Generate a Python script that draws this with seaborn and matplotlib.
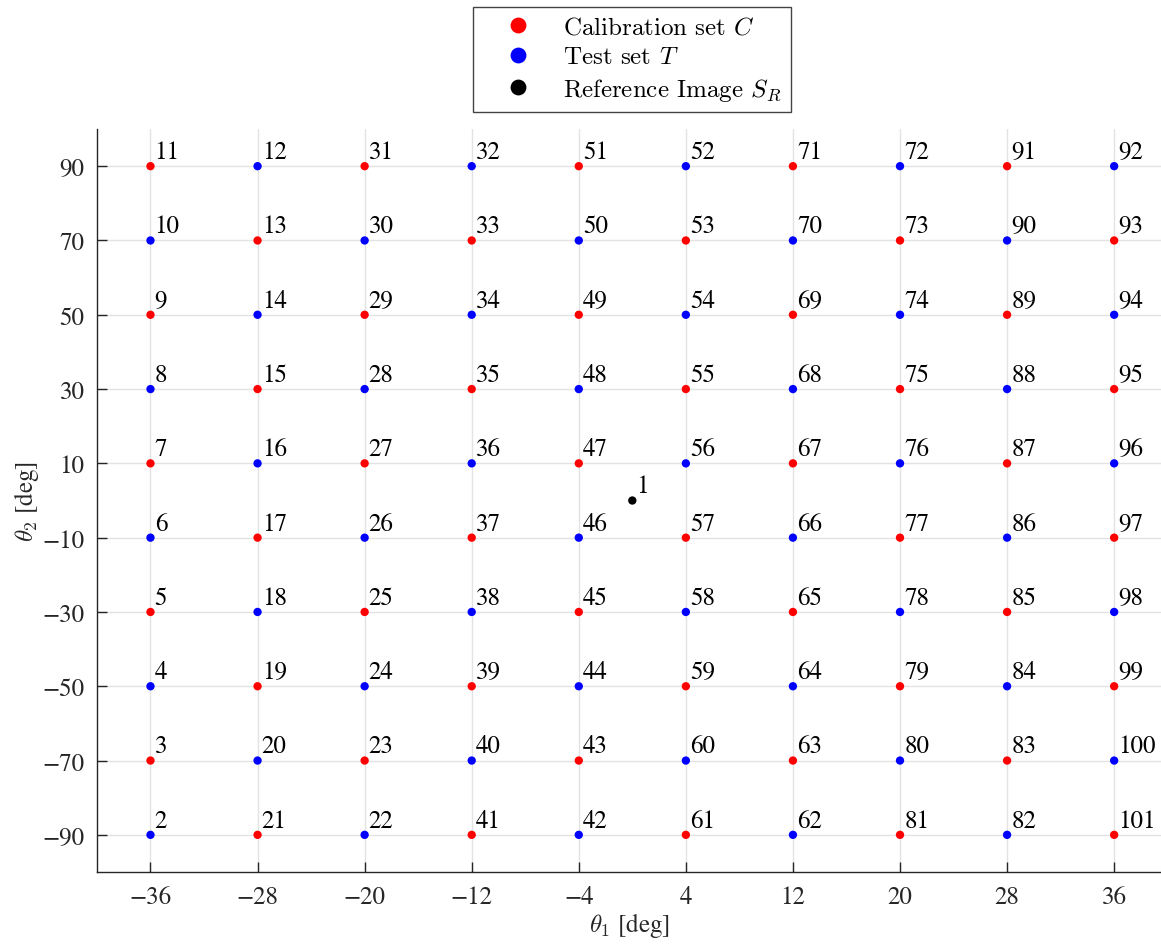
import pandas as pd
import matplotlib
matplotlib.use("Agg")
import matplotlib.pyplot as plt
import seaborn as sns

# grid positions
theta1 = [-36, -28, -20, -12, -4, 4, 12, 20, 28, 36]
theta2 = [90, 70, 50, 30, 10, -10, -30, -50, -70, -90]

# image ids per theta1 column, listed top (theta2=90) to bottom (theta2=-90)
image_ids = [
    [11, 10, 9, 8, 7, 6, 5, 4, 3, 2],
    [12, 13, 14, 15, 16, 17, 18, 19, 20, 21],
    [31, 30, 29, 28, 27, 26, 25, 24, 23, 22],
    [32, 33, 34, 35, 36, 37, 38, 39, 40, 41],
    [51, 50, 49, 48, 47, 46, 45, 44, 43, 42],
    [52, 53, 54, 55, 56, 57, 58, 59, 60, 61],
    [71, 70, 69, 68, 67, 66, 65, 64, 63, 62],
    [72, 73, 74, 75, 76, 77, 78, 79, 80, 81],
    [91, 90, 89, 88, 87, 86, 85, 84, 83, 82],
    [92, 93, 94, 95, 96, 97, 98, 99, 100, 101],
]

# C = calibration, T = test, same order as image_ids
set_codes = [
    "CTCTCTCTCT",
    "TCTCTCTCTC",
    "CTCTCTCTCT",
    "TCTCTCTCTC",
    "CTCTCTCTCT",
    "TCTCTCTCTC",
    "CTCTCTCTCT",
    "TCTCTCTCTC",
    "CTCTCTCTCT",
    "TCTCTCTCTC",
]

ref_theta1 = [0]
ref_theta2 = [0]
ref_id = [1]

set_names = {"C": r"Calibration set $C$", "T": r"Test set $T$", "R": r"Reference Image $S_R$"}
palette = {set_names["C"]: "red", set_names["T"]: "blue", set_names["R"]: "black"}

rows = []
for i, t1 in enumerate(theta1):
    for j, t2 in enumerate(theta2):
        rows.append({"theta1": t1, "theta2": t2, "id": image_ids[i][j],
                     "set": set_names[set_codes[i][j]]})
for t1, t2, n in zip(ref_theta1, ref_theta2, ref_id):
    rows.append({"theta1": t1, "theta2": t2, "id": n, "set": set_names["R"]})
df = pd.DataFrame(rows)

sns.set_style("white")
plt.rcParams["font.family"] = ["STIXGeneral", "DejaVu Serif"]
plt.rcParams["mathtext.fontset"] = "cm"

fig = plt.figure(figsize=(11.61, 9.45), dpi=100)
ax = fig.add_axes([0.0835, 0.0762, 0.9165, 0.7862])

hue_order = [set_names["C"], set_names["T"], set_names["R"]]
sns.scatterplot(data=df, x="theta1", y="theta2", hue="set", hue_order=hue_order,
                palette=palette, s=36, edgecolor="none", ax=ax, zorder=3)

for _, r in df.iterrows():
    ax.annotate(str(r["id"]), (r["theta1"], r["theta2"]), xytext=(3, 1.5),
                textcoords="offset points", ha="left", va="bottom",
                fontsize=18, color="black")

ax.set_xlim(-40, 39.5)
ax.set_ylim(-100, 100)
ax.set_xticks(theta1)
ax.set_yticks(theta2)
ax.tick_params(bottom=True, left=True, direction="in", length=7, width=1,
               labelsize=18, colors="#262626", pad=9)
ax.grid(True, color="#e3e3e3", linewidth=1)
ax.set_axisbelow(True)
for side in ["top", "right"]:
    ax.spines[side].set_visible(False)
for side in ["left", "bottom"]:
    ax.spines[side].set_color("#262626")
    ax.spines[side].set_linewidth(1)

ax.set_xlabel(r"$\theta_1$ [deg]", fontsize=18, labelpad=1)
ax.set_ylabel(r"$\theta_2$ [deg]", fontsize=18, labelpad=1)

handles, labels = ax.get_legend_handles_labels()
ax.get_legend().remove()
leg = fig.legend(handles, labels, loc="upper center",
                 bbox_to_anchor=(632 / 1161, 1 - 8 / 945), borderaxespad=0,
                 prop={"family": "cmr10", "size": 18}, markerscale=1.9,
                 fancybox=False, edgecolor="#444444", framealpha=1,
                 handlelength=2.9, handletextpad=0.35, labelspacing=0.3,
                 borderpad=0.35)
leg.get_frame().set_linewidth(1)
for t in leg.get_texts():
    t.set_color("black")

fig.savefig("out.png", dpi=100)
